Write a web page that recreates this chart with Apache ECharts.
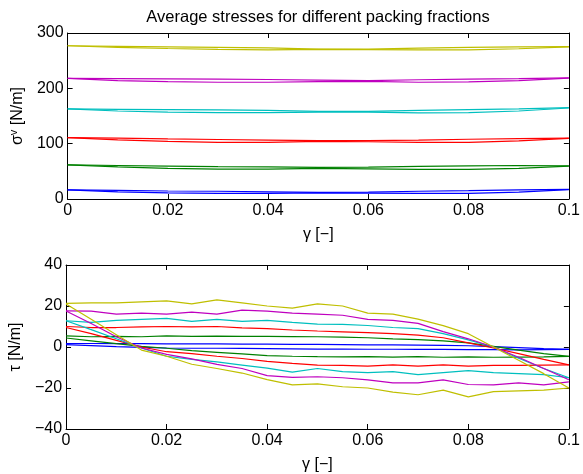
<!DOCTYPE html>
<html>
<head>
<meta charset="utf-8">
<script src="https://cdn.jsdelivr.net/npm/echarts@6/dist/echarts.min.js"></script>
<style>
  html, body { margin: 0; padding: 0; background: #fff; }
  #chart { width: 583px; height: 474px; }
</style>
</head>
<body>
<div id="chart"></div>
<script>
// Shear strain samples for the two panels
const gammaTop = [0, 0.01, 0.02, 0.03, 0.04, 0.05, 0.06, 0.07, 0.08, 0.09, 0.1];
const gammaBottom = [0, 0.005, 0.01, 0.015, 0.02, 0.025, 0.03, 0.035, 0.04, 0.045, 0.05,
                     0.055, 0.06, 0.065, 0.07, 0.075, 0.08, 0.085, 0.09, 0.095, 0.1];

// Normal stress sigma^v, two branches per packing fraction
const sigmaBlueA    = [16.5, 15.5, 14.5, 14, 13, 12, 12.5, 14, 15, 16.5, 17.5];
const sigmaBlueB    = [16.5, 13, 11, 10, 10, 11, 10.5, 10, 10, 12.5, 17];
const sigmaGreenA   = [61.5, 60.5, 59.5, 58.5, 58, 57, 57.5, 59, 60, 60.5, 60];
const sigmaGreenB   = [61.5, 58, 55.5, 54, 54, 55.5, 54.5, 53.5, 53.5, 55.5, 59.5];
const sigmaRedA     = [111, 110, 108.5, 107.5, 106.5, 105.5, 105.5, 106.5, 108, 109, 110];
const sigmaRedB     = [111, 107, 104, 102.5, 102.5, 104, 103.5, 102.5, 102.5, 105, 109.5];
const sigmaCyanA    = [163, 162, 161.5, 161, 160, 158.5, 158.5, 160, 161.5, 163, 165];
const sigmaCyanB    = [163, 159, 157, 156, 156, 157, 157, 155.5, 156, 159, 164.5];
const sigmaMagentaA = [218, 217.5, 217, 216.5, 216, 215, 214, 215.5, 216.5, 217.5, 219];
const sigmaMagentaB = [218, 214, 212, 211, 211, 212, 212.5, 211, 211.5, 214, 218.5];
const sigmaYellowA  = [277, 276, 275, 274, 273, 271, 271, 272.5, 274, 275, 275.5];
const sigmaYellowB  = [277, 274, 272, 270.5, 269.5, 270.5, 270, 269.5, 269.5, 271.5, 275];

// Shear stress tau, upper (U) and lower (L) branch per packing fraction
const tauBlueU    = [1.7, 1.7, 1.6, 1.6, 1.5, 1.5, 1.5, 1.4, 1.4, 1.3, 1.3, 1.2, 1.0, 1.0, 0.9, 0.8, 0.6, 0.2, -0.3, -0.8, -1.2];
const tauBlueL    = [1.2, 0.7, 0.2, -0.2, -0.5, -0.6, -0.6, -0.7, -0.8, -0.9, -1.0, -1.0, -1.1, -1.1, -1.2, -1.2, -1.3, -1.3, -1.4, -1.3, -1.2];
const tauGreenU   = [5.4, 5, 5.2, 5, 5.4, 5.2, 5.3, 5.2, 5.2, 5.1, 5, 4.8, 4.5, 4, 3.6, 3, 2, 0.3, -1.5, -3.2, -4.6];
const tauGreenL   = [4.4, 3, 1.6, 0.3, -0.6, -1.8, -2.6, -3.4, -4.2, -4.5, -4.7, -4.8, -4.7, -4.9, -4.7, -5, -4.8, -5, -4.9, -4.8, -4.6];
const tauRedU     = [10, 9.5, 9.5, 9.8, 10, 9.8, 10, 9.3, 9, 8.3, 7.8, 7.4, 7, 6.5, 5.8, 4.5, 2, -0.5, -3.2, -6, -8.7];
const tauRedL     = [9.5, 6.5, 3.2, 0, -2.3, -3.2, -4.5, -5.6, -7, -8, -8.8, -9, -9.3, -8.7, -9.3, -8.7, -9.3, -9, -9, -8.8, -8.7];
const tauCyanU    = [12.8, 12, 13, 13.5, 14, 12.5, 13.5, 12.5, 13, 12, 11.2, 11, 10.5, 9.5, 9, 6.5, 3.5, 0, -5.5, -10.5, -15];
const tauCyanL    = [12.8, 8.5, 4, -0.5, -4.5, -6, -7.3, -8.8, -10.3, -12.3, -10.5, -12, -12.5, -12, -13.5, -12.5, -11.5, -12.5, -13, -13.5, -15];
const tauMagentaU = [17.6, 17.5, 16, 16.5, 16, 17, 16, 18, 17.5, 16.5, 16, 15.5, 13.5, 13, 11.5, 7.5, 4, 0, -5, -10.5, -16];
const tauMagentaL = [17.6, 11.5, 5, -0.5, -3.6, -5.8, -8.5, -10.5, -14, -14.8, -14.5, -15, -16, -17.5, -17.5, -16, -18.3, -18.5, -17.5, -18.5, -17];
const tauYellowU  = [21.3, 21.5, 21.5, 22, 22.5, 21, 23, 21.5, 20, 19, 21, 20, 16.5, 16, 13.6, 10.4, 6.5, 0, -6.5, -13, -20];
const tauYellowL  = [21, 13.5, 6, -1.5, -4.5, -8.4, -10.5, -12.7, -15.9, -18.5, -18, -19.4, -20, -22, -23.3, -21, -24.3, -21.8, -21.4, -21, -20];

const lineColors = {
  blue: '#0000ff', green: '#008000', red: '#ff0000',
  cyan: '#00bfbf', magenta: '#bf00bf', yellow: '#bfbf00'
};

const topCurves = [
  ['blue', sigmaBlueA], ['blue', sigmaBlueB],
  ['green', sigmaGreenA], ['green', sigmaGreenB],
  ['red', sigmaRedA], ['red', sigmaRedB],
  ['cyan', sigmaCyanA], ['cyan', sigmaCyanB],
  ['magenta', sigmaMagentaA], ['magenta', sigmaMagentaB],
  ['yellow', sigmaYellowA], ['yellow', sigmaYellowB]
];
const bottomCurves = [
  ['blue', tauBlueU], ['blue', tauBlueL],
  ['green', tauGreenU], ['green', tauGreenL],
  ['red', tauRedU], ['red', tauRedL],
  ['cyan', tauCyanU], ['cyan', tauCyanL],
  ['magenta', tauMagentaU], ['magenta', tauMagentaL],
  ['yellow', tauYellowU], ['yellow', tauYellowL]
];

const FONT = 'Liberation Sans, Arial, Helvetica, sans-serif';
const FS = 16;
const minus = v => String(v).replace('-', '\u2212');
const gammaFmt = v => (v === 0 ? '0' : String(+v.toFixed(2)));

function makeSeries(curves, xs, axisIdx) {
  return curves.map(([c, ys]) => ({
    type: 'line',
    xAxisIndex: axisIdx,
    yAxisIndex: axisIdx,
    data: xs.map((x, i) => [x, ys[i]]),
    showSymbol: false,
    symbol: 'none',
    lineStyle: { color: lineColors[c], width: 1.2 },
    emphasis: { disabled: true },
    silent: true
  }));
}

function xAxes(gridIndex, withName) {
  const common = {
    type: 'value', gridIndex, min: 0, max: 0.1, interval: 0.02,
    splitLine: { show: false },
    axisLine: { show: true, onZero: false, lineStyle: { color: '#000', width: 1 } },
    axisTick: { show: true, inside: true, length: 5, lineStyle: { color: '#000' } }
  };
  return [
    Object.assign({}, common, {
      position: 'bottom',
      axisLabel: { color: '#000', fontSize: FS, fontFamily: FONT, margin: 4, formatter: gammaFmt },
      name: withName, nameLocation: 'middle', nameGap: 28,
      nameTextStyle: { color: '#000', fontSize: FS, fontFamily: FONT }
    }),
    Object.assign({}, common, { position: 'top', axisLabel: { show: false } })
  ];
}

function yAxes(gridIndex, min, max, interval, name, rich) {
  const common = {
    type: 'value', gridIndex, min, max, interval,
    splitLine: { show: false },
    axisLine: { show: true, onZero: false, lineStyle: { color: '#000', width: 1 } },
    axisTick: { show: true, inside: true, length: 5, lineStyle: { color: '#000' } }
  };
  return [
    Object.assign({}, common, {
      position: 'left',
      axisLabel: { color: '#000', fontSize: FS, fontFamily: FONT, margin: 4, formatter: minus },
      name, nameLocation: 'middle', nameGap: 38,
      nameTextStyle: { color: '#000', fontSize: FS, fontFamily: FONT, rich }
    }),
    Object.assign({}, common, { position: 'right', axisLabel: { show: false } })
  ];
}

const chart = echarts.init(document.getElementById('chart'), null, { renderer: 'canvas' });
chart.setOption({
  animation: false,
  backgroundColor: '#fff',
  title: {
    text: 'Average stresses for different packing fractions',
    left: 313, top: 4, textAlign: 'center',
    textStyle: { color: '#000', fontSize: 16.5, fontWeight: 'normal', fontFamily: FONT }
  },
  grid: [
    { left: 65, top: 33, width: 506, height: 166 },
    { left: 65, top: 265, width: 506, height: 167 }
  ],
  xAxis: [].concat(xAxes(0, '\u03b3 [\u2212]'), xAxes(1, '\u03b3 [\u2212]')),
  yAxis: [].concat(
    yAxes(0, 0, 300, 100, '{a|\u03c3}{s|v}{a| [N/m]}', {
      a: { fontSize: FS, fontFamily: FONT, color: '#000', lineHeight: 20 },
      s: { fontSize: 11, fontFamily: FONT, color: '#000', verticalAlign: 'top', lineHeight: 20, padding: [0, 0, 7, 0] }
    }),
    yAxes(1, -40, 40, 20, '\u03c4 [N/m]')
  ),
  series: [].concat(
    makeSeries(topCurves, gammaTop, 0),
    makeSeries(bottomCurves, gammaBottom, 2)
  )
});
</script>
</body>
</html>
